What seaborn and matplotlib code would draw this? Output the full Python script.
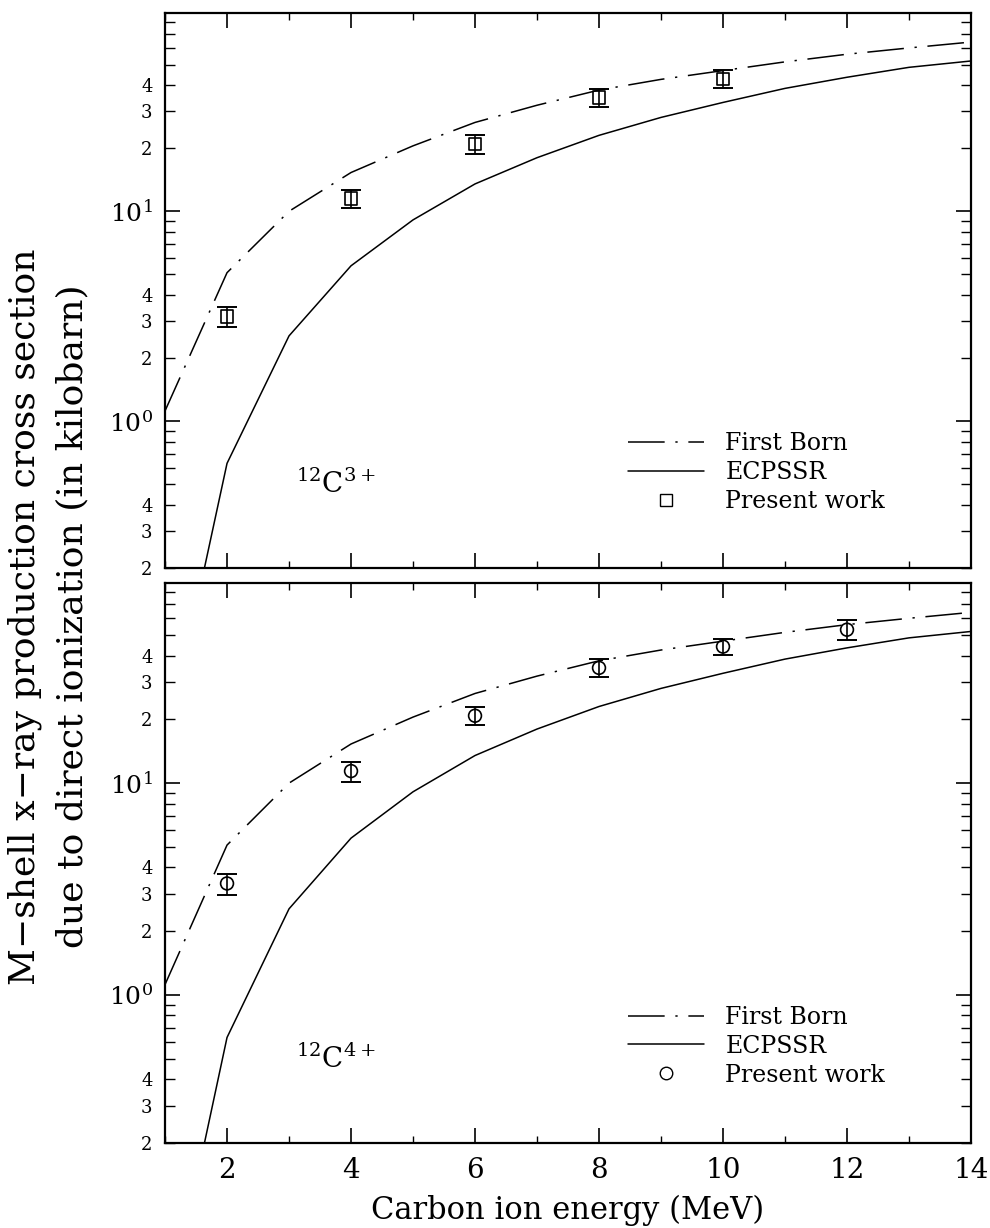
import numpy as np
import pandas as pd
import matplotlib
matplotlib.use("Agg")
import matplotlib.pyplot as plt
import seaborn as sns
from matplotlib.lines import Line2D
from matplotlib.ticker import FixedLocator, FixedFormatter

# ---------------- data ----------------
energy_theory = [1, 2, 3, 4, 5, 6, 7, 8, 9, 10, 11, 12, 13, 14]
first_born = [1.12, 5.1, 10.0, 15.3, 20.5, 26.5, 32.0, 37.8, 42.5, 46.8, 51.5, 56.0, 60.0, 64.0]
ecpssr = [0.027, 0.63, 2.55, 5.5, 9.1, 13.5, 18.0, 23.0, 28.0, 33.0, 38.5, 43.5, 48.5, 52.0]

energy_c3 = [2, 4, 6, 8, 10]
sigma_c3 = [3.15, 11.5, 20.9, 34.9, 42.7]
err_c3 = [0.35, 1.15, 2.2, 3.4, 4.2]

energy_c4 = [2, 4, 6, 8, 10, 12]
sigma_c4 = [3.36, 11.4, 20.8, 35.0, 44.1, 53.0]
err_c4 = [0.38, 1.25, 2.05, 3.4, 4.0, 5.8]

x_ticks = [2, 4, 6, 8, 10, 12, 14]
y_major = [1, 10]
y_major_labels = ["$10^{0}$", "$10^{1}$"]

theory = pd.DataFrame({
    "energy": energy_theory * 2,
    "sigma": first_born + ecpssr,
    "model": ["First Born"] * len(energy_theory) + ["ECPSSR"] * len(energy_theory),
})

# ---------------- style ----------------
sns.set_style("ticks")
plt.rcParams["font.family"] = ["DejaVu Serif"]
plt.rcParams["mathtext.fontset"] = "dejavuserif"
plt.rcParams["mathtext.default"] = "regular"
plt.rcParams["text.color"] = "black"
plt.rcParams["axes.labelcolor"] = "black"
plt.rcParams["xtick.color"] = "black"
plt.rcParams["ytick.color"] = "black"
plt.rcParams["axes.edgecolor"] = "black"

fig = plt.figure(figsize=(9.9, 12.28), dpi=100)
ax1 = fig.add_axes([0.1667, 0.5375, 0.8141, 0.4519])
ax2 = fig.add_axes([0.1667, 0.0692, 0.8141, 0.4560])

fb_dash = (24, 7, 1.5, 7)

minor_pairs = [(v * d, v) for d in (0.1, 1, 10) for v in range(2, 10) if v * d < 88]
minor_y = [p[0] for p in minor_pairs]
minor_labels = [str(p[1]) if p[1] in (2, 3, 4) else "" for p in minor_pairs]


def draw_panel(ax, ex, ey, eerr, marker, label):
    sns.lineplot(data=theory, x="energy", y="sigma", style="model",
                 dashes={"First Born": fb_dash, "ECPSSR": ""},
                 color="black", linewidth=1.1, legend=False, ax=ax, sort=False)
    ax.errorbar(ex, ey, yerr=eerr, fmt="none", ecolor="black",
                elinewidth=1.2, capsize=7, capthick=1.4, zorder=3)
    sns.scatterplot(x=ex, y=ey, marker=marker, s=85, facecolors="none",
                    edgecolors="black", linewidths=1.2, ax=ax, zorder=4)
    ax.set_yscale("log")
    ax.set_xlim(1, 14)
    ax.set_ylim(0.2, 88)
    ax.set_xticks(x_ticks)
    ax.set_xticks(list(range(1, 15)), minor=True)
    ax.yaxis.set_major_locator(FixedLocator(y_major))
    ax.yaxis.set_major_formatter(FixedFormatter(y_major_labels))
    ax.yaxis.set_minor_locator(FixedLocator(minor_y))
    ax.yaxis.set_minor_formatter(FixedFormatter(minor_labels))
    ax.tick_params(which="both", direction="in", top=True, right=True, color="black")
    ax.tick_params(axis="x", which="major", length=11, width=1.2, labelsize=20, pad=10)
    ax.tick_params(axis="x", which="minor", length=5, width=1.0)
    ax.tick_params(axis="y", which="major", length=11, width=1.2, labelsize=18, pad=9)
    ax.tick_params(axis="y", which="minor", length=7, width=1.0, labelsize=13, pad=9)
    for sp in ax.spines.values():
        sp.set_linewidth(1.6)
        sp.set_color("black")
    ax.set_xlabel("")
    ax.set_ylabel("")

    handles = [
        Line2D([], [], color="black", linewidth=1.1, dashes=fb_dash),
        Line2D([], [], color="black", linewidth=1.1),
        Line2D([], [], color="black", linestyle="none", marker=marker,
               markerfacecolor="none", markersize=9, markeredgewidth=1.0),
    ]
    ax.legend(handles, ["First Born", "ECPSSR", "Present work"],
              loc="upper left", bbox_to_anchor=(0.575, 0.245), frameon=False,
              fontsize=17, handlelength=3.2, handletextpad=0.9,
              labelspacing=0.25, borderpad=0, borderaxespad=0)
    ax.text(0.162, 0.15, label, transform=ax.transAxes, fontsize=20,
            ha="left", va="center")


draw_panel(ax1, energy_c3, sigma_c3, err_c3, "s", r"$^{12}$C$^{3+}$")
draw_panel(ax2, energy_c4, sigma_c4, err_c4, "o", r"$^{12}$C$^{4+}$")
ax1.tick_params(axis="x", labelbottom=False)

ax2.set_xlabel("Carbon ion energy (MeV)", fontsize=22, labelpad=8)

fig.text(25 / 990, 0.498, "M\u2212shell x\u2212ray production cross section",
         rotation=90, ha="center", va="center", fontsize=26)
fig.text(72 / 990, 0.498, "due to direct ionization (in kilobarn)",
         rotation=90, ha="center", va="center", fontsize=26)

fig.savefig("out.png", dpi=100)
